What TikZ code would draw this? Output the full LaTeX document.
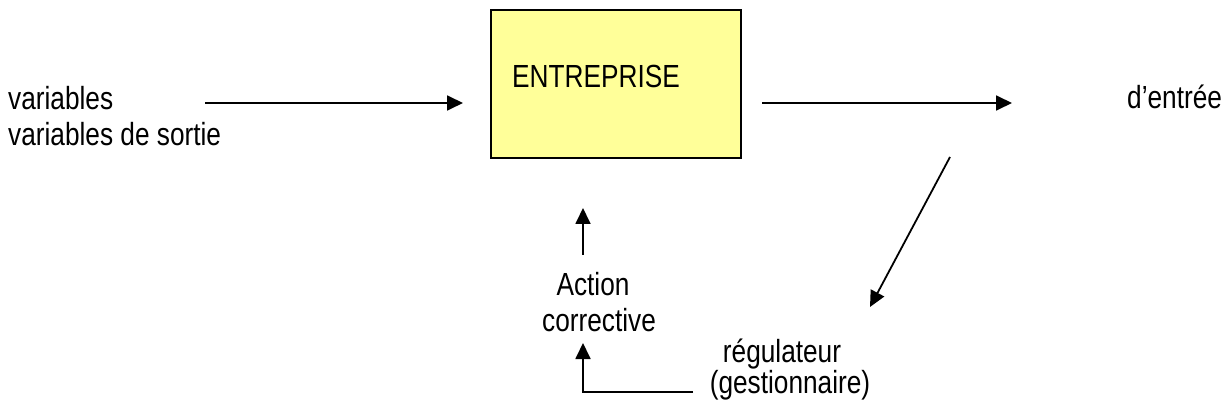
\documentclass[tikz,border=0pt]{standalone}
\usepackage{fontspec}
\setmainfont{Liberation Sans}[FakeStretch=0.82]
\usetikzlibrary{arrows.meta}
\definecolor{boxyellow}{HTML}{FFFF99}
\begin{document}
\begin{tikzpicture}[x=1pt,y=-1pt,
  every node/.style={inner sep=0pt, font=\fontsize{32}{36}\selectfont},
  lbl/.style={anchor=base west},
  lblc/.style={anchor=base},
  arr/.style={line width=1.8pt, -{Triangle[length=16pt,width=15pt]}},
  entbox/.style={draw=black, line width=1.4pt, fill=boxyellow, minimum width=250pt, minimum height=148pt}]
\useasboundingbox (0,0) rectangle (1232,414);
% box
\node[entbox] (box) at (616,84) {};
\node[lbl] (ent) at (512,88) {ENTREPRISE};
% left labels
\node[lbl] (vin) at (8,110) {variables};
\node[lbl] (vout) at (8,146) {variables de sortie};
\node[lbl] (dent) at (1127,109) {d’entrée};
% feedback labels
\node[lblc] (act1) at (593,295) {Action};
\node[lblc] (act2) at (599,331) {corrective};
\node[lblc] (reg1) at (782,362) {régulateur};
\node[lblc] (reg2) at (790,393) {(gestionnaire)};
% coordinates for free ends
\coordinate (a1s) at (205,103);
\coordinate (a1e) at (463,103);
\coordinate (a2s) at (762,103);
\coordinate (a2e) at (1012,103);
\coordinate (ds) at (950,157);
\coordinate (de) at (870,307);
\coordinate (u1s) at (583,255);
\coordinate (u1e) at (583,208);
\coordinate (hs) at (693,392);
\coordinate (hc) at (583,392);
\coordinate (u2e) at (583,343);
% connectors
\draw[arr] (a1s) -- (a1e);
\draw[arr] (a2s) -- (a2e);
\draw[arr] (ds) -- (de);
\draw[arr] (u1s) -- (u1e);
\draw[arr] (hs) -- (hc) -- (u2e);
\end{tikzpicture}
\end{document}
